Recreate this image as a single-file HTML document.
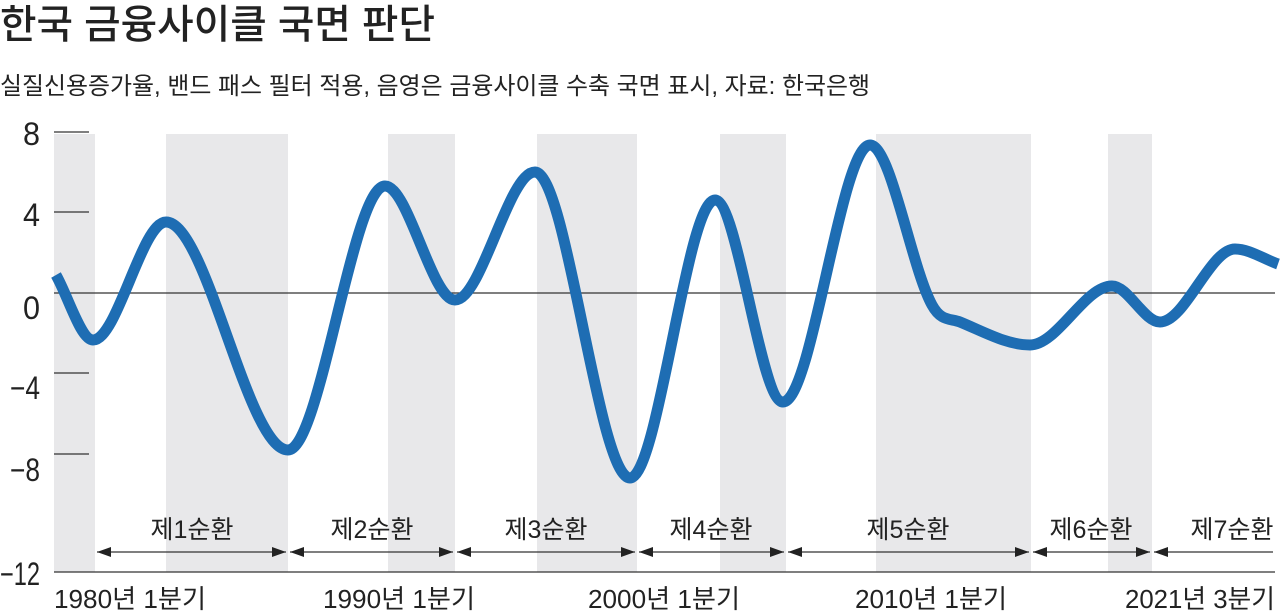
<!DOCTYPE html>
<html><head><meta charset="utf-8"><style>
html,body{margin:0;padding:0;background:#fff;}
svg{display:block}
text{font-family:"Liberation Sans","Noto Sans CJK KR",sans-serif;fill:#222}
</style></head><body>
<svg id="s" width="1280" height="612" viewBox="0 0 1280 612" xmlns="http://www.w3.org/2000/svg">
<text x="0" y="38" font-size="40" textLength="435" lengthAdjust="spacingAndGlyphs" font-weight="500">한국 금융사이클 국면 판단</text>
<text x="0" y="94" font-size="24" textLength="870" lengthAdjust="spacingAndGlyphs" fill="#333">실질신용증가율, 밴드 패스 필터 적용, 음영은 금융사이클 수축 국면 표시, 자료: 한국은행</text>
<g fill="#e8e8ea">
<rect x="54" y="134" width="41" height="438"/>
<rect x="166" y="134" width="122" height="438"/>
<rect x="388" y="134" width="67" height="438"/>
<rect x="537" y="134" width="100" height="438"/>
<rect x="720" y="134" width="66" height="438"/>
<rect x="876" y="134" width="155" height="438"/>
<rect x="1108" y="134" width="44" height="438"/>
</g>
<g stroke="#333" stroke-width="1.2">
<line x1="54" y1="132" x2="89" y2="132"/>
<line x1="54" y1="212" x2="89" y2="212"/>
<line x1="54" y1="293" x2="1275" y2="293"/>
<line x1="54" y1="373" x2="89" y2="373"/>
<line x1="54" y1="454" x2="89" y2="454"/>
<line x1="54" y1="572" x2="1275" y2="572"/>
</g>
<g font-size="32" text-anchor="end" fill="#333">
<text x="40" y="145" textLength="17" lengthAdjust="spacingAndGlyphs">8</text>
<text x="40" y="226" textLength="17" lengthAdjust="spacingAndGlyphs">4</text>
<text x="40" y="319" textLength="17" lengthAdjust="spacingAndGlyphs">0</text>
<text x="40" y="399" textLength="30" lengthAdjust="spacingAndGlyphs">−4</text>
<text x="40" y="481" textLength="30" lengthAdjust="spacingAndGlyphs">−8</text>
<text x="40" y="585" textLength="40" lengthAdjust="spacingAndGlyphs">−12</text>
</g>
<g font-size="26">
<text x="54" y="608" textLength="152" lengthAdjust="spacingAndGlyphs">1980년 1분기</text>
<text x="323" y="608" textLength="152" lengthAdjust="spacingAndGlyphs">1990년 1분기</text>
<text x="588" y="608" textLength="152" lengthAdjust="spacingAndGlyphs">2000년 1분기</text>
<text x="855" y="608" textLength="152" lengthAdjust="spacingAndGlyphs">2010년 1분기</text>
<text x="1125" y="608" textLength="150" lengthAdjust="spacingAndGlyphs">2021년 3분기</text>
</g>
<g font-size="25" text-anchor="middle">
<text x="192" y="538">제1순환</text>
<text x="372" y="538">제2순환</text>
<text x="546" y="538">제3순환</text>
<text x="711" y="538">제4순환</text>
<text x="908" y="538">제5순환</text>
<text x="1091" y="538">제6순환</text>
<text x="1232" y="538">제7순환</text>
</g>
<g id="arrows" stroke="#333" stroke-width="1.2" fill="#222"></g>
<path id="curve" fill="none" stroke="#1e6db3" stroke-width="11" stroke-linecap="butt" stroke-linejoin="round"/>
</svg>
<script>
var segs=[[95,288],[288,455],[455,637],[637,786],[786,1031],[1031,1152],[1152,1275]];
var g=document.getElementById('arrows'),y=552,h='';
segs.forEach(function(s,i){
 var a=s[0]+2,b=s[1]-2;
 h+='<line x1="'+a+'" y1="'+y+'" x2="'+b+'" y2="'+y+'"/>';
 h+='<polygon stroke="none" points="'+a+','+y+' '+(a+14)+','+(y-5)+' '+(a+14)+','+(y+5)+'"/>';
 if(i<6) h+='<polygon stroke="none" points="'+b+','+y+' '+(b-14)+','+(y-5)+' '+(b-14)+','+(y+5)+'"/>';
});
g.innerHTML=h;
var p=[[56,275],[93,340],[166,222],[288,450],[385,186],[455,300],[535,172],[630,478],[715,200],[783,402],[870,145],[932,305],[960,322],[1030,345],[1112,286],[1160,322],[1235,249],[1278,264]];
var n=p.length,sec=[],m=[];
for(var i=0;i<n-1;i++) sec.push((p[i+1][1]-p[i][1])/(p[i+1][0]-p[i][0]));
for(var i=0;i<n;i++){
 if(i==0){m.push(sec[0]);continue;}
 if(i==n-1){m.push(sec[n-2]);continue;}
 var a=sec[i-1],b=sec[i];
 if(a*b<=0){m.push(0);continue;}
 var v=(p[i+1][1]-p[i-1][1])/(p[i+1][0]-p[i-1][0]);
 var lim=3*Math.min(Math.abs(a),Math.abs(b));
 if(Math.abs(v)>lim) v=Math.sign(v)*lim;
 m.push(v);
}
var d='M'+p[0][0]+','+p[0][1];
for(var i=0;i<n-1;i++){
 var dx=(p[i+1][0]-p[i][0])/3;
 d+=' C'+(p[i][0]+dx).toFixed(1)+','+(p[i][1]+m[i]*dx).toFixed(1)+' '+(p[i+1][0]-dx).toFixed(1)+','+(p[i+1][1]-m[i+1]*dx).toFixed(1)+' '+p[i+1][0]+','+p[i+1][1];
}
document.getElementById('curve').setAttribute('d',d);
</script>
</body></html>
